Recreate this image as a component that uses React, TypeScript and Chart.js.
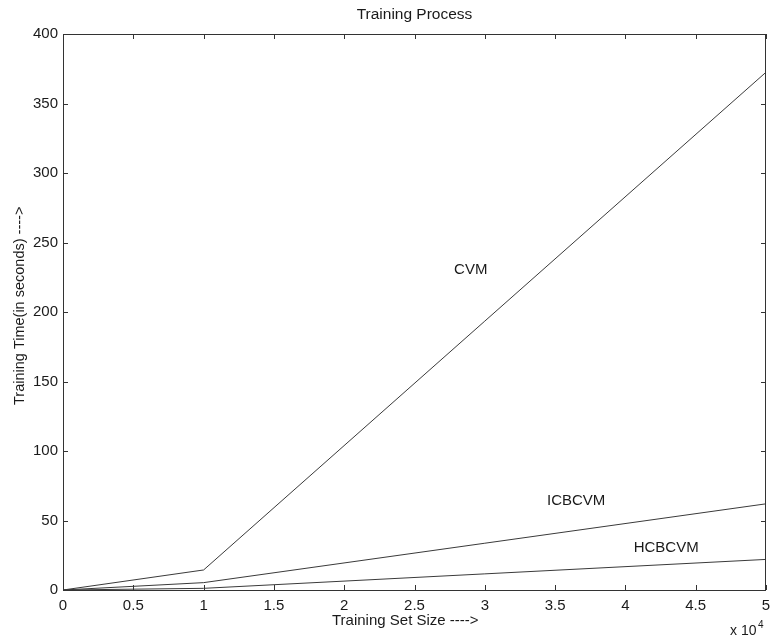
import React, { useEffect, useRef } from "react";
import { Chart, registerables } from "chart.js";

Chart.register(...registerables);

// Training set size (x 10^4)
const sizes = [0, 1, 5];
const cvmTimes = [0, 14.4, 372.5];
const icbcvmTimes = [0, 5.3, 62];
const hcbcvmTimes = [0, 1.2, 22];

const seriesNames = ["CVM", "ICBCVM", "HCBCVM"];
const labelXs = [2.9, 3.65, 4.29];
const labelYs = [230, 64, 30];

const xTicks = [0, 0.5, 1, 1.5, 2, 2.5, 3, 3.5, 4, 4.5, 5];
const yTicks = [0, 50, 100, 150, 200, 250, 300, 350, 400];

const titleText = "Training Process";
const xTitle = "Training Set Size ---->";
const yTitle = "Training Time(in seconds) ---->";

const FONT = "Liberation Sans, Arial, sans-serif";

const decorPlugin = {
  id: "decor",
  afterDraw(chart: any) {
    const { ctx, chartArea, scales } = chart;
    const xs = scales.x;
    const ys = scales.y;
    ctx.save();
    // frame
    ctx.strokeStyle = "#333";
    ctx.lineWidth = 1;
    ctx.strokeRect(chartArea.left + 0.5, chartArea.top + 0.5, chartArea.right - chartArea.left - 1, chartArea.bottom - chartArea.top);
    // inside ticks
    const tl = 5;
    ctx.beginPath();
    xTicks.forEach((v) => {
      const px = Math.round(xs.getPixelForValue(v)) + 0.5;
      ctx.moveTo(px, chartArea.bottom);
      ctx.lineTo(px, chartArea.bottom - tl);
      ctx.moveTo(px, chartArea.top);
      ctx.lineTo(px, chartArea.top + tl);
    });
    yTicks.forEach((v) => {
      const py = Math.round(ys.getPixelForValue(v)) + 0.5;
      ctx.moveTo(chartArea.left, py);
      ctx.lineTo(chartArea.left + tl, py);
      ctx.moveTo(chartArea.right, py);
      ctx.lineTo(chartArea.right - tl, py);
    });
    ctx.stroke();

    ctx.fillStyle = "#1a1a1a";
    // series labels
    ctx.font = `15px ${FONT}`;
    ctx.textAlign = "center";
    ctx.textBaseline = "middle";
    seriesNames.forEach((n, i) => {
      ctx.fillText(n, xs.getPixelForValue(labelXs[i]), ys.getPixelForValue(labelYs[i]));
    });

    // title
    ctx.font = `15.5px ${FONT}`;
    const cx = (chartArea.left + chartArea.right) / 2;
    ctx.fillText(titleText, cx, chartArea.top - 19);
    // x title
    ctx.font = `15px ${FONT}`;
    ctx.textAlign = "left";
    ctx.fillText(xTitle, 332, chartArea.bottom + 31);
    // y title
    ctx.save();
    ctx.font = `14.5px ${FONT}`;
    ctx.translate(20, 405);
    ctx.rotate(-Math.PI / 2);
    ctx.fillText(yTitle, 0, 0);
    ctx.restore();
    // exponent
    ctx.textAlign = "left";
    ctx.font = `14px ${FONT}`;
    ctx.fillText("x 10", chartArea.right - 36, chartArea.bottom + 41);
    ctx.font = `10px ${FONT}`;
    ctx.fillText("4", chartArea.right - 8, chartArea.bottom + 35);
    ctx.restore();
  },
};

export default function App() {
  const ref = useRef<HTMLCanvasElement>(null);
  useEffect(() => {
    document.body.style.margin = "0";
    const mk = (label: string, data: number[]) => ({
      label,
      data: sizes.map((x, i) => ({ x, y: data[i] })),
      borderColor: "#3a3a3a",
      borderWidth: 1,
      pointRadius: 0,
      fill: false,
      tension: 0,
    });
    const chart = new Chart(ref.current!, {
      type: "line",
      data: {
        datasets: [mk("CVM", cvmTimes), mk("ICBCVM", icbcvmTimes), mk("HCBCVM", hcbcvmTimes)],
      },
      options: {
        animation: false,
        responsive: false,
        devicePixelRatio: 1,
        layout: { padding: { top: 34, right: 6, left: 0, bottom: 0 } },
        plugins: { legend: { display: false }, tooltip: { enabled: false }, title: { display: false } },
        scales: {
          x: {
            type: "linear",
            min: 0,
            max: 5,
            afterBuildTicks: (s: any) => {
              s.ticks = xTicks.map((v) => ({ value: v }));
            },
            afterFit: (s: any) => {
              s.height = 53;
              s.paddingLeft = 0;
              s.paddingRight = 0;
            },
            ticks: {
              callback: (v: any) => String(v),
              font: { size: 15, family: FONT },
              color: "#1a1a1a",
              padding: 7,
              maxRotation: 0,
              autoSkip: false,
            },
            grid: { display: false, drawTicks: false },
            border: { display: false },
          },
          y: {
            type: "linear",
            min: 0,
            max: 400,
            afterBuildTicks: (s: any) => {
              s.ticks = yTicks.map((v) => ({ value: v }));
            },
            afterFit: (s: any) => {
              s.width = 63;
              s.paddingTop = 0;
              s.paddingBottom = 0;
            },
            ticks: {
              callback: (v: any) => String(v),
              font: { size: 15, family: FONT },
              color: "#1a1a1a",
              padding: 5,
            },
            grid: { display: false, drawTicks: false },
            border: { display: false },
          },
        },
      },
      plugins: [decorPlugin],
    });
    return () => chart.destroy();
  }, []);
  return (
    <div style={{ width: 772, height: 643, background: "#fff" }}>
      <canvas ref={ref} width={772} height={643} />
    </div>
  );
}
